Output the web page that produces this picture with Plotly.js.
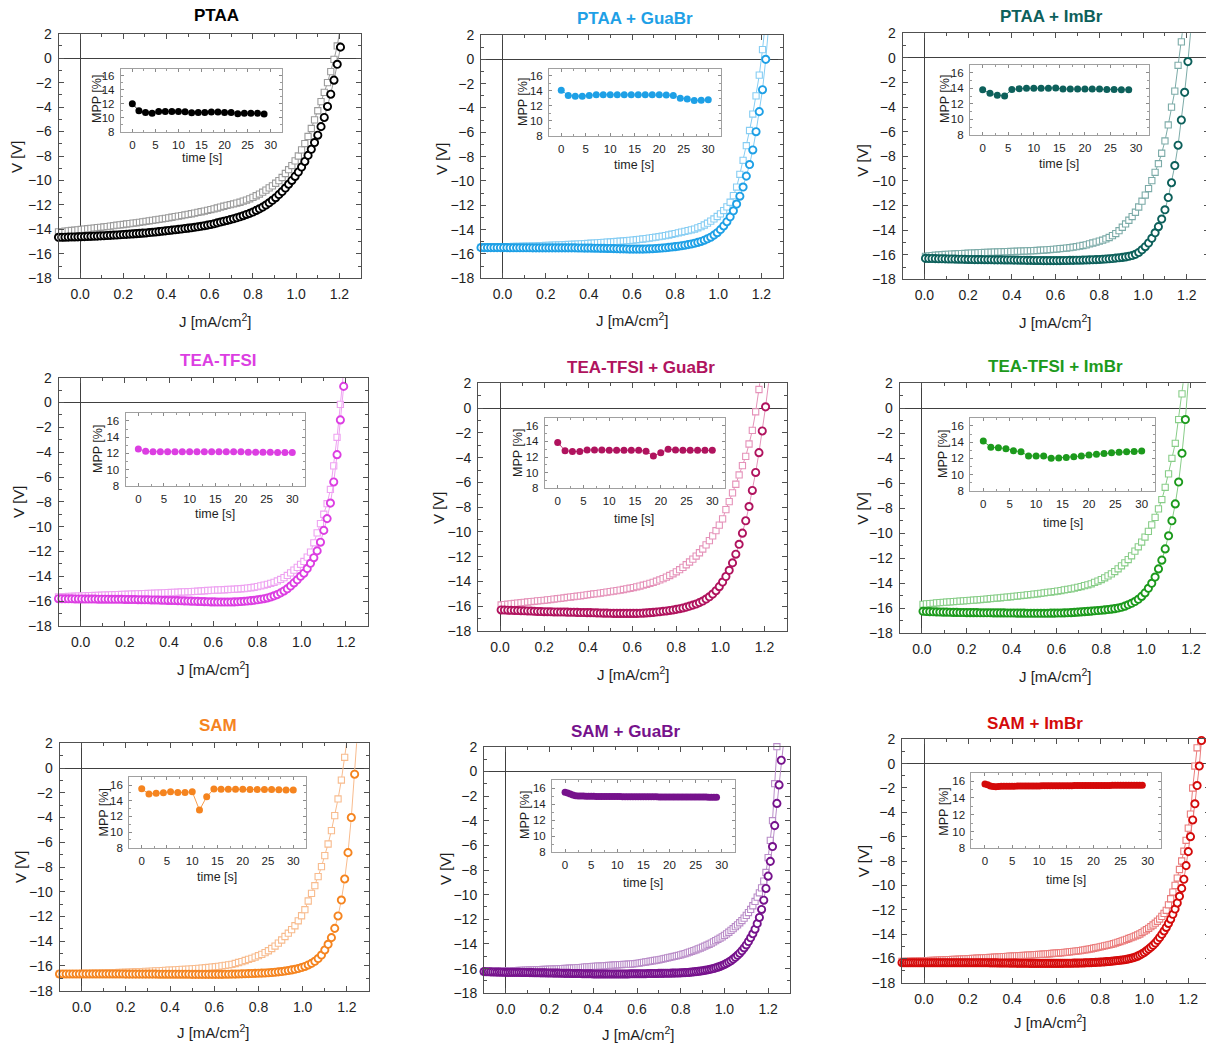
<!DOCTYPE html>
<html>
<head>
<meta charset="utf-8">
<script src="https://cdn.plot.ly/plotly-3.0.1.min.js"></script>
<style>
  html, body { margin: 0; padding: 0; overflow: hidden; background: #fff; }
  #chart { width: 1215px; height: 1045px; }
</style>
</head>
<body>
<div id="chart"></div>
<script>
// J sweep points (mA/cm2) shared by the standard-resolution scans
const GRID_A = [
  -0.1,-0.085,-0.07,-0.055,-0.04,-0.025,-0.01,0.005,0.02,0.035,
  0.05,0.065,0.08,0.095,0.11,0.125,0.14,0.155,0.17,0.185,
  0.2,0.215,0.23,0.245,0.26,0.275,0.29,0.305,0.32,0.335,
  0.35,0.365,0.38,0.395,0.41,0.425,0.44,0.455,0.47,0.485,
  0.5,0.515,0.53,0.545,0.56,0.575,0.59,0.605,0.62,0.635,
  0.65,0.665,0.68,0.695,0.71,0.725,0.74,0.755,0.77,0.785,
  0.8,0.815,0.83,0.845,0.86,0.875,0.89,0.905,0.92,0.935,
  0.95,0.965,0.98,0.995,1.01,1.025,1.04,1.055,1.07,1.085,
  1.1,1.115,1.13,1.145,1.16,1.175,1.19,1.205,1.22,1.235,
  1.25,1.265,1.28
];
// finer J sweep used for the SAM + additive scans
const GRID_C = [
  -0.1,-0.09,-0.08,-0.07,-0.06,-0.05,-0.04,-0.03,-0.02,-0.01,
  0,0.01,0.02,0.03,0.04,0.05,0.06,0.07,0.08,0.09,
  0.1,0.11,0.12,0.13,0.14,0.15,0.16,0.17,0.18,0.19,
  0.2,0.21,0.22,0.23,0.24,0.25,0.26,0.27,0.28,0.29,
  0.3,0.31,0.32,0.33,0.34,0.35,0.36,0.37,0.38,0.39,
  0.4,0.41,0.42,0.43,0.44,0.45,0.46,0.47,0.48,0.49,
  0.5,0.51,0.52,0.53,0.54,0.55,0.56,0.57,0.58,0.59,
  0.6,0.61,0.62,0.63,0.64,0.65,0.66,0.67,0.68,0.69,
  0.7,0.71,0.72,0.73,0.74,0.75,0.76,0.77,0.78,0.79,
  0.8,0.81,0.82,0.83,0.84,0.85,0.86,0.87,0.88,0.89,
  0.9,0.91,0.92,0.93,0.94,0.95,0.96,0.97,0.98,0.99,
  1.0,1.01,1.02,1.03,1.04,1.05,1.06,1.07,1.08,1.09,
  1.1,1.11,1.12,1.13,1.14,1.15,1.16,1.17,1.18,1.19,
  1.2,1.21,1.22,1.23,1.24,1.25,1.26,1.27,1.28
];

// ---- PTAA ----
const PTAA_CIRC = [
  -14.65,-14.65,-14.64,-14.63,-14.62,-14.62,-14.61,-14.6,-14.59,-14.58,
  -14.57,-14.56,-14.55,-14.53,-14.52,-14.5,-14.49,-14.47,-14.46,-14.44,
  -14.42,-14.41,-14.39,-14.37,-14.35,-14.33,-14.31,-14.29,-14.26,-14.24,
  -14.21,-14.18,-14.15,-14.12,-14.09,-14.06,-14.03,-14.0,-13.97,-13.93,
  -13.9,-13.87,-13.83,-13.79,-13.75,-13.7,-13.65,-13.6,-13.54,-13.47,
  -13.4,-13.33,-13.27,-13.2,-13.13,-13.05,-12.97,-12.88,-12.78,-12.69,
  -12.58,-12.45,-12.32,-12.18,-12.01,-11.83,-11.62,-11.41,-11.16,-10.91,
  -10.62,-10.31,-10.0,-9.67,-9.31,-8.9,-8.45,-7.95,-7.45,-6.9,
  -6.3,-5.6,-4.85,-3.95,-2.95,-1.8,-0.5,0.9
];
const PTAA_SQ = [
  -14.2,-14.18,-14.15,-14.12,-14.09,-14.07,-14.04,-14.01,-13.98,-13.95,
  -13.92,-13.89,-13.86,-13.83,-13.8,-13.77,-13.73,-13.7,-13.66,-13.63,
  -13.6,-13.56,-13.53,-13.49,-13.46,-13.42,-13.38,-13.34,-13.3,-13.26,
  -13.22,-13.18,-13.14,-13.1,-13.06,-13.01,-12.96,-12.92,-12.87,-12.82,
  -12.77,-12.72,-12.67,-12.61,-12.56,-12.5,-12.44,-12.38,-12.32,-12.25,
  -12.18,-12.11,-12.04,-11.98,-11.92,-11.85,-11.78,-11.69,-11.6,-11.5,
  -11.38,-11.25,-11.11,-10.96,-10.79,-10.61,-10.44,-10.23,-10.01,-9.76,
  -9.43,-9.12,-8.78,-8.4,-8.0,-7.5,-6.98,-6.4,-5.75,-5.05,
  -4.3,-3.55,-2.8,-2.0,-1.1,-0.1,1.0,2.6
];
// ---- PTAA + GuaBr ----
const PTAA_GUA_CIRC = [
  -15.48,-15.48,-15.48,-15.48,-15.48,-15.48,-15.48,-15.48,-15.48,-15.49,
  -15.49,-15.49,-15.49,-15.49,-15.49,-15.49,-15.5,-15.5,-15.5,-15.5,
  -15.5,-15.5,-15.5,-15.5,-15.5,-15.5,-15.5,-15.5,-15.5,-15.5,
  -15.51,-15.51,-15.52,-15.52,-15.52,-15.53,-15.53,-15.54,-15.54,-15.55,
  -15.55,-15.56,-15.57,-15.58,-15.58,-15.59,-15.6,-15.6,-15.6,-15.6,
  -15.6,-15.59,-15.58,-15.57,-15.55,-15.53,-15.51,-15.49,-15.46,-15.43,
  -15.4,-15.36,-15.32,-15.28,-15.23,-15.18,-15.12,-15.05,-14.97,-14.87,
  -14.75,-14.62,-14.45,-14.25,-14.0,-13.7,-13.35,-12.95,-12.45,-11.9,
  -11.25,-10.5,-9.6,-8.65,-7.45,-5.95,-4.3,-2.5,0.0,3.0
];
const PTAA_GUA_SQ = [
  -15.45,-15.45,-15.44,-15.44,-15.43,-15.43,-15.42,-15.41,-15.4,-15.39,
  -15.38,-15.38,-15.37,-15.36,-15.35,-15.35,-15.34,-15.33,-15.32,-15.31,
  -15.3,-15.29,-15.28,-15.27,-15.26,-15.25,-15.24,-15.22,-15.21,-15.2,
  -15.19,-15.17,-15.16,-15.14,-15.12,-15.11,-15.09,-15.07,-15.05,-15.03,
  -15.01,-14.99,-14.97,-14.95,-14.93,-14.91,-14.88,-14.86,-14.83,-14.8,
  -14.77,-14.74,-14.7,-14.66,-14.62,-14.58,-14.54,-14.49,-14.44,-14.38,
  -14.32,-14.26,-14.2,-14.14,-14.08,-14.02,-13.95,-13.85,-13.75,-13.62,
  -13.47,-13.3,-13.12,-12.92,-12.7,-12.43,-12.13,-11.75,-11.2,-10.5,
  -9.45,-8.3,-7.1,-5.85,-4.5,-3.0,-1.3,0.8,3.3
];
// ---- PTAA + ImBr (sweep starts at J = 0) ----
const PTAA_IM_CIRC = [
  -16.3,-16.31,-16.31,-16.32,-16.33,-16.33,-16.34,-16.35,-16.35,-16.36,-16.37,-16.37,-16.38,
  -16.39,-16.39,-16.4,-16.4,-16.4,-16.41,-16.41,-16.41,-16.42,-16.42,
  -16.42,-16.43,-16.43,-16.43,-16.44,-16.44,-16.45,-16.45,-16.46,-16.46,
  -16.47,-16.47,-16.47,-16.48,-16.48,-16.48,-16.48,-16.48,-16.48,-16.47,
  -16.47,-16.46,-16.46,-16.45,-16.45,-16.44,-16.43,-16.42,-16.41,-16.4,
  -16.39,-16.37,-16.35,-16.33,-16.31,-16.28,-16.25,-16.22,-16.18,-16.13,
  -16.07,-15.97,-15.82,-15.6,-15.35,-15.05,-14.67,-14.22,-13.72,-13.1,
  -12.35,-11.35,-10.15,-8.75,-7.1,-5.05,-2.8,-0.3,2.6
];
const PTAA_IM_SQ = [
  -16.14,-16.1,-16.07,-16.04,-16.02,-16.0,-15.98,-15.97,-15.95,-15.94,-15.92,-15.91,-15.9,
  -15.88,-15.87,-15.86,-15.84,-15.83,-15.82,-15.81,-15.8,-15.79,-15.78,
  -15.77,-15.76,-15.75,-15.74,-15.73,-15.72,-15.71,-15.7,-15.69,-15.68,
  -15.67,-15.66,-15.64,-15.62,-15.6,-15.58,-15.56,-15.54,-15.51,-15.49,
  -15.46,-15.43,-15.39,-15.35,-15.3,-15.25,-15.2,-15.12,-15.05,-14.98,
  -14.9,-14.82,-14.72,-14.6,-14.45,-14.28,-14.05,-13.77,-13.5,-13.2,
  -12.9,-12.55,-12.12,-11.65,-11.15,-10.62,-9.98,-9.3,-8.6,-7.75,
  -6.75,-5.45,-4.0,-2.7,-0.6,1.3,3.5
];
// ---- TEA-TFSI ----
const TEA_CIRC = [
  -15.8,-15.8,-15.81,-15.81,-15.81,-15.82,-15.82,-15.82,-15.83,-15.83,
  -15.83,-15.83,-15.84,-15.84,-15.84,-15.84,-15.85,-15.85,-15.85,-15.85,
  -15.86,-15.86,-15.87,-15.87,-15.88,-15.88,-15.89,-15.89,-15.9,-15.9,
  -15.91,-15.92,-15.93,-15.94,-15.94,-15.95,-15.96,-15.97,-15.98,-15.99,
  -16.0,-16.01,-16.02,-16.03,-16.04,-16.05,-16.06,-16.06,-16.07,-16.07,
  -16.07,-16.07,-16.07,-16.06,-16.05,-16.03,-16.01,-15.99,-15.96,-15.93,
  -15.89,-15.85,-15.8,-15.74,-15.66,-15.57,-15.47,-15.33,-15.18,-15.0,
  -14.78,-14.53,-14.28,-14.0,-13.75,-13.38,-12.95,-12.5,-11.95,-11.25,
  -10.3,-9.35,-8.1,-6.4,-4.2,-1.4,1.3
];
const TEA_SQ = [
  -15.65,-15.64,-15.63,-15.62,-15.61,-15.6,-15.59,-15.58,-15.57,-15.56,
  -15.55,-15.54,-15.53,-15.52,-15.51,-15.5,-15.49,-15.48,-15.47,-15.46,
  -15.45,-15.44,-15.43,-15.42,-15.41,-15.4,-15.39,-15.38,-15.37,-15.36,
  -15.35,-15.34,-15.33,-15.31,-15.3,-15.29,-15.28,-15.26,-15.25,-15.24,
  -15.23,-15.21,-15.2,-15.18,-15.16,-15.14,-15.13,-15.11,-15.1,-15.09,
  -15.08,-15.06,-15.05,-15.04,-15.02,-15.0,-14.98,-14.95,-14.92,-14.88,
  -14.83,-14.77,-14.71,-14.64,-14.56,-14.48,-14.37,-14.25,-14.1,-13.93,
  -13.72,-13.5,-13.28,-13.03,-12.8,-12.45,-12.05,-11.3,-10.5,-9.75,
  -9.0,-8.15,-7.0,-5.1,-2.8,-0.15,2.6
];
// ---- TEA-TFSI + GuaBr (sweep starts at J = 0) ----
const TEA_GUA_CIRC = [
  -16.3,-16.31,-16.32,-16.33,-16.34,-16.35,-16.36,-16.37,-16.38,-16.39,-16.41,-16.42,-16.43,
  -16.44,-16.44,-16.45,-16.46,-16.46,-16.47,-16.47,-16.48,-16.49,-16.49,
  -16.5,-16.51,-16.51,-16.52,-16.52,-16.53,-16.54,-16.55,-16.56,-16.56,
  -16.57,-16.58,-16.58,-16.58,-16.58,-16.58,-16.58,-16.58,-16.58,-16.57,
  -16.56,-16.54,-16.52,-16.5,-16.47,-16.44,-16.41,-16.38,-16.34,-16.3,
  -16.25,-16.2,-16.14,-16.07,-15.99,-15.91,-15.82,-15.71,-15.58,-15.42,
  -15.24,-15.02,-14.75,-14.42,-14.05,-13.6,-13.1,-12.5,-11.8,-11.0,
  -10.1,-9.1,-7.95,-6.65,-5.2,-3.6,-1.85,0.1,2.2
];
const TEA_GUA_SQ = [
  -15.9,-15.87,-15.84,-15.81,-15.78,-15.75,-15.72,-15.69,-15.66,-15.63,-15.6,-15.57,-15.55,
  -15.52,-15.49,-15.46,-15.42,-15.39,-15.36,-15.33,-15.29,-15.26,-15.22,
  -15.19,-15.16,-15.12,-15.08,-15.05,-15.01,-14.98,-14.94,-14.9,-14.86,
  -14.82,-14.78,-14.74,-14.7,-14.65,-14.6,-14.55,-14.49,-14.43,-14.37,
  -14.3,-14.23,-14.15,-14.07,-13.98,-13.88,-13.77,-13.65,-13.52,-13.38,
  -13.22,-13.05,-12.86,-12.65,-12.43,-12.2,-11.95,-11.68,-11.38,-11.05,
  -10.7,-10.32,-9.9,-9.45,-8.95,-8.2,-7.55,-6.85,-6.15,-5.4,
  -4.65,-3.9,-2.9,-1.8,-0.3,1.5,3.4
];
// ---- TEA-TFSI + ImBr (sweep starts at J = 0) ----
const TEA_IM_CIRC = [
  -16.24,-16.26,-16.27,-16.28,-16.29,-16.3,-16.31,-16.31,-16.32,-16.33,-16.33,-16.34,-16.34,
  -16.35,-16.35,-16.35,-16.35,-16.36,-16.36,-16.36,-16.36,-16.37,-16.37,
  -16.37,-16.37,-16.38,-16.38,-16.38,-16.39,-16.39,-16.39,-16.4,-16.4,
  -16.4,-16.4,-16.4,-16.4,-16.4,-16.39,-16.39,-16.38,-16.38,-16.37,
  -16.36,-16.35,-16.33,-16.31,-16.29,-16.27,-16.25,-16.23,-16.2,-16.18,
  -16.16,-16.13,-16.1,-16.07,-16.03,-15.98,-15.92,-15.83,-15.72,-15.6,
  -15.46,-15.28,-15.05,-14.77,-14.4,-14.0,-13.5,-12.85,-12.15,-11.25,
  -10.2,-9.0,-7.65,-5.9,-3.6,-0.9,2.6
];
const TEA_IM_SQ = [
  -15.68,-15.65,-15.62,-15.6,-15.57,-15.55,-15.53,-15.51,-15.49,-15.47,-15.45,-15.43,-15.41,
  -15.39,-15.37,-15.35,-15.33,-15.31,-15.28,-15.26,-15.23,-15.21,-15.18,
  -15.16,-15.13,-15.11,-15.08,-15.05,-15.02,-14.99,-14.96,-14.93,-14.9,
  -14.87,-14.84,-14.8,-14.77,-14.73,-14.7,-14.66,-14.62,-14.58,-14.53,
  -14.49,-14.44,-14.39,-14.32,-14.26,-14.19,-14.12,-14.04,-13.93,-13.82,
  -13.7,-13.56,-13.41,-13.25,-13.06,-12.84,-12.6,-12.36,-12.1,-11.8,
  -11.43,-11.08,-10.7,-10.3,-9.85,-9.33,-8.73,-8.05,-7.3,-6.32,
  -5.25,-4.0,-2.8,-0.9,1.15,3.4
];
// ---- SAM ----
const SAM_CIRC = [
  -16.65,-16.65,-16.65,-16.65,-16.65,-16.65,-16.65,-16.65,-16.65,-16.65,
  -16.65,-16.65,-16.65,-16.65,-16.65,-16.65,-16.65,-16.65,-16.65,-16.65,
  -16.66,-16.66,-16.66,-16.66,-16.66,-16.66,-16.66,-16.66,-16.66,-16.66,
  -16.67,-16.67,-16.67,-16.67,-16.67,-16.67,-16.67,-16.67,-16.67,-16.67,
  -16.68,-16.68,-16.68,-16.68,-16.68,-16.68,-16.68,-16.68,-16.68,-16.68,
  -16.67,-16.67,-16.66,-16.66,-16.65,-16.64,-16.63,-16.62,-16.61,-16.6,
  -16.59,-16.58,-16.57,-16.55,-16.53,-16.51,-16.48,-16.45,-16.41,-16.37,
  -16.32,-16.27,-16.21,-16.13,-16.04,-15.92,-15.79,-15.62,-15.4,-15.12,
  -14.71,-14.25,-13.71,-12.96,-11.96,-10.67,-8.97,-6.84,-4.0,-0.5,
  3.5
];
const SAM_SQ = [
  -16.65,-16.65,-16.64,-16.64,-16.63,-16.63,-16.62,-16.61,-16.61,-16.6,
  -16.59,-16.58,-16.58,-16.57,-16.56,-16.55,-16.55,-16.54,-16.53,-16.52,
  -16.51,-16.5,-16.48,-16.47,-16.46,-16.45,-16.44,-16.43,-16.41,-16.4,
  -16.39,-16.37,-16.36,-16.34,-16.33,-16.31,-16.3,-16.28,-16.27,-16.25,
  -16.23,-16.21,-16.19,-16.17,-16.14,-16.12,-16.09,-16.06,-16.03,-15.99,
  -15.95,-15.91,-15.87,-15.8,-15.72,-15.65,-15.56,-15.47,-15.38,-15.28,
  -15.17,-15.06,-14.92,-14.77,-14.59,-14.39,-14.15,-13.9,-13.62,-13.35,
  -13.06,-12.75,-12.35,-11.94,-11.45,-10.75,-10.13,-9.51,-8.78,-7.97,
  -7.08,-6.14,-5.06,-3.85,-2.5,-0.97,0.87,2.8
];
// ---- SAM + GuaBr (fine sweep) ----
const SAM_GUA_CIRC = [
  -16.24,-16.25,-16.25,-16.26,-16.27,-16.27,-16.28,-16.28,-16.29,-16.29,
  -16.3,-16.3,-16.3,-16.3,-16.3,-16.3,-16.3,-16.31,-16.31,-16.31,
  -16.31,-16.32,-16.32,-16.33,-16.33,-16.33,-16.34,-16.34,-16.34,-16.35,
  -16.35,-16.35,-16.36,-16.36,-16.36,-16.37,-16.37,-16.38,-16.38,-16.38,
  -16.39,-16.39,-16.4,-16.4,-16.4,-16.41,-16.41,-16.42,-16.42,-16.42,
  -16.43,-16.43,-16.43,-16.43,-16.43,-16.43,-16.43,-16.43,-16.43,-16.43,
  -16.43,-16.43,-16.43,-16.43,-16.43,-16.43,-16.43,-16.42,-16.42,-16.42,
  -16.42,-16.42,-16.41,-16.41,-16.41,-16.4,-16.4,-16.4,-16.39,-16.39,
  -16.38,-16.38,-16.38,-16.37,-16.37,-16.37,-16.36,-16.36,-16.35,-16.35,
  -16.34,-16.33,-16.32,-16.31,-16.3,-16.28,-16.26,-16.24,-16.22,-16.2,
  -16.17,-16.14,-16.11,-16.07,-16.03,-15.99,-15.94,-15.88,-15.82,-15.74,
  -15.66,-15.57,-15.47,-15.36,-15.22,-15.08,-14.92,-14.75,-14.55,-14.32,
  -14.08,-13.8,-13.5,-13.17,-12.8,-12.35,-11.85,-11.2,-10.45,-9.5,
  -8.5,-7.3,-6.1,-4.4,-2.6,-1.1,0.9,2.2
];
const SAM_GUA_SQ = [
  -16.25,-16.25,-16.24,-16.24,-16.23,-16.23,-16.22,-16.22,-16.21,-16.21,
  -16.2,-16.19,-16.19,-16.18,-16.17,-16.16,-16.15,-16.15,-16.14,-16.13,
  -16.12,-16.11,-16.11,-16.1,-16.09,-16.09,-16.08,-16.07,-16.07,-16.06,
  -16.05,-16.04,-16.04,-16.03,-16.02,-16.01,-16.0,-15.99,-15.98,-15.97,
  -15.96,-15.95,-15.93,-15.92,-15.91,-15.89,-15.88,-15.86,-15.85,-15.84,
  -15.82,-15.81,-15.8,-15.79,-15.78,-15.77,-15.76,-15.74,-15.73,-15.72,
  -15.7,-15.69,-15.68,-15.67,-15.66,-15.65,-15.64,-15.63,-15.61,-15.6,
  -15.58,-15.55,-15.52,-15.49,-15.46,-15.43,-15.4,-15.37,-15.34,-15.31,
  -15.29,-15.25,-15.21,-15.17,-15.13,-15.09,-15.05,-15.01,-14.97,-14.93,
  -14.88,-14.83,-14.78,-14.72,-14.66,-14.6,-14.54,-14.47,-14.4,-14.33,
  -14.26,-14.18,-14.1,-14.02,-13.93,-13.83,-13.73,-13.63,-13.53,-13.42,
  -13.3,-13.18,-13.05,-12.9,-12.76,-12.6,-12.45,-12.28,-12.1,-11.9,
  -11.68,-11.45,-11.2,-10.9,-10.55,-10.2,-9.85,-9.45,-8.9,-8.2,
  -7.0,-5.6,-4.0,-1.0,2.0,4.5
];
// ---- SAM + ImBr (fine sweep) ----
const SAM_IM_CIRC = [
  -16.36,-16.36,-16.36,-16.36,-16.36,-16.36,-16.36,-16.36,-16.36,-16.36,
  -16.36,-16.36,-16.36,-16.36,-16.36,-16.36,-16.36,-16.36,-16.36,-16.36,
  -16.36,-16.36,-16.36,-16.36,-16.36,-16.36,-16.36,-16.36,-16.36,-16.36,
  -16.36,-16.36,-16.36,-16.36,-16.36,-16.36,-16.36,-16.36,-16.36,-16.36,
  -16.37,-16.37,-16.37,-16.37,-16.38,-16.38,-16.38,-16.38,-16.38,-16.39,
  -16.39,-16.39,-16.39,-16.4,-16.4,-16.4,-16.4,-16.4,-16.41,-16.41,
  -16.41,-16.41,-16.41,-16.41,-16.41,-16.41,-16.41,-16.41,-16.41,-16.41,
  -16.41,-16.41,-16.41,-16.41,-16.4,-16.4,-16.4,-16.4,-16.39,-16.39,
  -16.39,-16.38,-16.38,-16.37,-16.36,-16.36,-16.35,-16.34,-16.33,-16.32,
  -16.31,-16.3,-16.29,-16.27,-16.26,-16.24,-16.22,-16.2,-16.18,-16.16,
  -16.14,-16.11,-16.08,-16.04,-16.0,-15.95,-15.89,-15.82,-15.73,-15.63,
  -15.52,-15.38,-15.24,-15.09,-14.93,-14.74,-14.52,-14.29,-14.03,-13.75,
  -13.46,-13.13,-12.78,-12.38,-11.95,-11.45,-10.9,-10.25,-9.5,-8.38,
  -7.23,-6.0,-4.63,-3.3,-1.8,-0.2,1.9,3.8
];
const SAM_IM_SQ = [
  -16.25,-16.25,-16.24,-16.24,-16.23,-16.23,-16.22,-16.22,-16.21,-16.21,
  -16.2,-16.19,-16.18,-16.17,-16.17,-16.16,-16.15,-16.14,-16.13,-16.12,
  -16.11,-16.1,-16.1,-16.09,-16.08,-16.08,-16.07,-16.06,-16.05,-16.04,
  -16.03,-16.02,-16.01,-16.0,-15.99,-15.98,-15.97,-15.96,-15.95,-15.94,
  -15.93,-15.92,-15.91,-15.9,-15.89,-15.87,-15.86,-15.85,-15.83,-15.82,
  -15.81,-15.8,-15.79,-15.78,-15.77,-15.76,-15.75,-15.74,-15.73,-15.72,
  -15.7,-15.69,-15.68,-15.67,-15.66,-15.65,-15.63,-15.62,-15.6,-15.58,
  -15.57,-15.56,-15.54,-15.53,-15.51,-15.49,-15.47,-15.45,-15.43,-15.4,
  -15.38,-15.36,-15.33,-15.3,-15.27,-15.24,-15.21,-15.17,-15.13,-15.09,
  -15.05,-15.01,-14.97,-14.93,-14.89,-14.85,-14.8,-14.74,-14.68,-14.62,
  -14.56,-14.5,-14.44,-14.37,-14.3,-14.23,-14.16,-14.08,-14.0,-13.88,
  -13.76,-13.65,-13.53,-13.4,-13.26,-13.11,-12.95,-12.77,-12.55,-12.3,
  -12.05,-11.6,-11.1,-10.55,-10.0,-9.4,-8.7,-8.0,-7.2,-6.3,
  -5.3,-4.15,-2.0,-0.2,1.3,2.9
];

// ---- maximum power point tracking (inset) ----
const MPP_T = [0,1.43,2.86,4.29,5.71,7.14,8.57,10,11.43,12.86,14.29,15.71,17.14,18.57,20,21.43,22.86,24.29,25.71,27.14,28.57,30];
const MPP_T_FINE = [
  0,0.5,1,1.5,2,2.5,3,3.5,4,4.5,5,5.5,6,6.5,7,7.5,8,8.5,9,9.5,
  10,10.5,11,11.5,12,12.5,13,13.5,14,14.5,15,15.5,16,16.5,17,17.5,18,18.5,19,19.5,
  20,20.5,21,21.5,22,22.5,23,23.5,24,24.5,25,25.5,26,26.5,27,27.5,28,28.5,29
];
const MPP_PTAA = [12.0,11.0,10.76,10.62,10.9,10.9,10.9,10.9,10.86,10.71,10.76,10.76,10.81,10.81,10.76,10.76,10.57,10.62,10.62,10.62,10.52];
const MPP_PTAA_GUA = [14.1,13.4,13.3,13.3,13.4,13.5,13.5,13.5,13.5,13.5,13.5,13.5,13.5,13.5,13.5,13.45,13.4,13.0,12.9,12.7,12.75,12.8];
const MPP_PTAA_IM = [13.8,13.35,13.1,13.0,13.85,13.95,14.0,14.0,14.0,14.0,14.05,13.9,13.9,13.9,13.9,13.9,13.9,13.85,13.85,13.8,13.8];
const MPP_TEA = [12.55,12.25,12.2,12.2,12.2,12.2,12.2,12.2,12.2,12.2,12.2,12.2,12.2,12.2,12.2,12.15,12.15,12.15,12.15,12.1,12.1,12.1];
const MPP_TEA_GUA = [13.87,12.8,12.7,12.7,12.9,12.9,12.9,12.85,12.85,12.85,12.85,12.85,12.75,12.13,12.55,13.0,12.9,12.85,12.85,12.85,12.85,12.85];
const MPP_TEA_IM = [14.14,13.36,13.3,13.2,12.95,12.8,12.3,12.3,12.3,12.0,12.05,12.1,12.2,12.3,12.4,12.5,12.6,12.7,12.75,12.8,12.85,12.9];
const MPP_SAM = [15.53,14.85,14.95,15.0,15.15,15.05,15.05,15.15,12.8,14.5,15.5,15.45,15.45,15.45,15.45,15.42,15.42,15.42,15.42,15.4,15.38,15.38];
const MPP_SAM_GUA = [
  15.5,15.42,15.28,15.15,15.08,15.05,15.05,15.03,15.02,15.0,
  15.0,15.0,14.98,14.98,14.98,14.97,14.97,14.97,14.96,14.96,
  14.96,14.96,14.95,14.95,14.95,14.95,14.95,14.94,14.94,14.94,
  14.94,14.93,14.93,14.93,14.93,14.93,14.92,14.92,14.92,14.92,
  14.92,14.92,14.91,14.91,14.91,14.91,14.91,14.9,14.9,14.9,
  14.9,14.9,14.9,14.9,14.9,14.89,14.89,14.89,14.88
];
const MPP_SAM_IM = [
  15.65,15.55,15.42,15.35,15.33,15.35,15.37,15.38,15.38,15.39,
  15.39,15.39,15.4,15.4,15.4,15.41,15.41,15.41,15.42,15.42,
  15.42,15.43,15.43,15.43,15.44,15.44,15.44,15.44,15.45,15.45,
  15.45,15.45,15.45,15.46,15.46,15.46,15.46,15.47,15.47,15.47,
  15.47,15.47,15.48,15.48,15.48,15.48,15.48,15.49,15.49,15.49,
  15.49,15.49,15.5,15.5,15.5,15.5,15.5,15.5,15.5
];

// ---- figure layout (pixel boxes on a 1215 x 1045 canvas) ----
const W = 1215, H = 1045;
const FONT = '"Liberation Sans", Arial, Helvetica, sans-serif';
const INK = '#1e1e1e';
const FRAME = '#505050';

const panels = [
  { name: 'PTAA', dark: '#000000', light: '#9b9b9b', grid: GRID_A,
    circ: PTAA_CIRC, circOff: 0, sq: PTAA_SQ, sqOff: 0, t: MPP_T, mpp: MPP_PTAA,
    box: [58.5, 361, 33.7, 278.3], inset: [120.8, 282.2, 68.7, 131.7],
    title: [217, 16], xt: [215, 320], yt: [17, 157], imp: [97, 99], itime: [202, 158] },
  { name: 'PTAA + GuaBr', dark: '#1ea0e6', light: '#86cdf3', grid: GRID_A,
    circ: PTAA_GUA_CIRC, circOff: 0, sq: PTAA_GUA_SQ, sqOff: 0, t: MPP_T, mpp: MPP_PTAA_GUA,
    box: [481, 783, 35, 278.3], inset: [549, 720.5, 68.5, 135.7],
    title: [635, 18.3], xt: [632, 319], yt: [442, 158], imp: [523, 102], itime: [634, 165] },
  { name: 'PTAA + ImBr', dark: '#0d605b', light: '#7caba8', grid: GRID_A,
    circ: PTAA_IM_CIRC, circOff: 7, sq: PTAA_IM_SQ, sqOff: 7, t: MPP_T, mpp: MPP_PTAA_IM,
    box: [902.5, 1208.7, 33.3, 279.3], inset: [969.9, 1148.8, 64.9, 135],
    title: [1051.7, 16.7], xt: [1055, 321.7], yt: [861.7, 160], imp: [945, 99], itime: [1059, 164] },
  { name: 'TEA-TFSI', dark: '#dc3ee2', light: '#eea2f1', grid: GRID_A,
    circ: TEA_CIRC, circOff: 0, sq: TEA_SQ, sqOff: 0, t: MPP_T, mpp: MPP_TEA,
    box: [58.5, 368, 377.7, 626], inset: [125.5, 305.1, 412.9, 485.7],
    title: [218, 360.7], xt: [213, 668], yt: [18, 502], imp: [98, 449], itime: [215, 514] },
  { name: 'TEA-TFSI + GuaBr', dark: '#b0135e', light: '#e592b9', grid: GRID_A,
    circ: TEA_GUA_CIRC, circOff: 7, sq: TEA_GUA_SQ, sqOff: 7, t: MPP_T, mpp: MPP_TEA_GUA,
    box: [478, 786.5, 383.3, 631], inset: [544.8, 725.2, 417.9, 488.3],
    title: [640.7, 367.3], xt: [633, 673.3], yt: [438, 508], imp: [518, 453], itime: [634, 519] },
  { name: 'TEA-TFSI + ImBr', dark: '#1c9a1c', light: '#88cd88', grid: GRID_A,
    circ: TEA_IM_CIRC, circOff: 7, sq: TEA_IM_SQ, sqOff: 7, t: MPP_T, mpp: MPP_TEA_IM,
    box: [899.5, 1213.4, 383.3, 633.3], inset: [970.1, 1154.9, 417.9, 490.7],
    title: [1055, 366.7], xt: [1055, 675], yt: [861.7, 508], imp: [943, 454], itime: [1062.7, 522.7] },
  { name: 'SAM', dark: '#f5841f', light: '#f8bb8d', grid: GRID_A,
    circ: SAM_CIRC, circOff: 0, sq: SAM_SQ, sqOff: 0, t: MPP_T, mpp: MPP_SAM,
    box: [59.5, 369, 743.3, 990.7], inset: [129.1, 305.9, 777.2, 847.7],
    title: [218.3, 725], xt: [213.3, 1031.7], yt: [20, 867], imp: [103, 812.5], itime: [217.3, 876.7] },
  { name: 'SAM + GuaBr', dark: '#76128c', light: '#b98cc8', grid: GRID_C,
    circ: SAM_GUA_CIRC, circOff: 0, sq: SAM_GUA_SQ, sqOff: 0, t: MPP_T_FINE, mpp: MPP_SAM_GUA,
    box: [484, 790, 746.7, 993.3], inset: [552, 734.8, 780.3, 852.3],
    title: [625, 731], xt: [638.3, 1033.3], yt: [445, 869], imp: [525, 815], itime: [643.3, 882.7] },
  { name: 'SAM + ImBr', dark: '#d40a0a', light: '#ea7c7c', grid: GRID_C,
    circ: SAM_IM_CIRC, circOff: 0, sq: SAM_IM_SQ, sqOff: 0, t: MPP_T_FINE, mpp: MPP_SAM_IM,
    box: [902, 1210.3, 739.3, 982.7], inset: [971.4, 1161.3, 772.6, 848.3],
    title: [1035, 723.3], xt: [1050, 1021.7], yt: [863.3, 861], imp: [944, 811.7], itime: [1065.7, 880] }
];

const traces = [];
const annotations = [];
const layout = {
  width: W, height: H,
  margin: { l: 0, r: 0, t: 0, b: 0 },
  paper_bgcolor: '#ffffff', plot_bgcolor: '#ffffff',
  showlegend: false,
  font: { family: FONT, color: INK },
  annotations: annotations
};

const axId = n => (n === 1 ? '' : String(n));
const fx = px => px / W;
const fy = px => 1 - px / H;

function note(text, pos, size, color, angle, bold) {
  annotations.push({
    text: bold ? '<b>' + text + '</b>' : text,
    x: fx(pos[0]), y: fy(pos[1]), xref: 'paper', yref: 'paper',
    xanchor: 'center', yanchor: 'middle', showarrow: false,
    textangle: angle || 0,
    font: { family: FONT, size: size, color: color }
  });
}

panels.forEach((p, i) => {
  const n = i + 1, m = i + 10;
  const xa = 'x' + axId(n), ya = 'y' + axId(n);

  // reverse (squares, pale) first, then forward (circles) on top
  const scans = [
    { v: p.sq, off: p.sqOff, symbol: 'square', size: 6.2, lw: 1.1, col: p.light },
    { v: p.circ, off: p.circOff, symbol: 'circle', size: 7.2, lw: 1.9, col: p.dark }
  ];
  scans.forEach(s => {
    const xs = p.grid.slice(s.off, s.off + s.v.length);
    traces.push({
      type: 'scatter', mode: 'lines', x: xs, y: s.v, xaxis: xa, yaxis: ya,
      line: { color: p.light, width: 1 }, hoverinfo: 'skip'
    });
    const idx = s.v.map((_, j) => j).filter(j => s.v[j] <= 2.4);
    traces.push({
      type: 'scatter', mode: 'markers',
      x: idx.map(j => xs[j]), y: idx.map(j => s.v[j]),
      xaxis: xa, yaxis: ya, cliponaxis: false,
      marker: { symbol: s.symbol, size: s.size, color: '#ffffff', line: { color: s.col, width: s.lw } },
      hoverinfo: 'skip'
    });
  });

  traces.push({
    type: 'scatter', mode: 'lines+markers',
    x: p.t.slice(0, p.mpp.length), y: p.mpp,
    xaxis: 'x' + m, yaxis: 'y' + m, cliponaxis: false,
    line: { color: p.dark, width: 0.8 },
    marker: { size: 7, color: p.dark },
    hoverinfo: 'skip'
  });

  layout['xaxis' + axId(n)] = {
    domain: [fx(p.box[0]), fx(p.box[1])], range: [-0.1, 1.3], anchor: ya,
    showline: true, mirror: 'ticks', linecolor: FRAME, linewidth: 1,
    ticks: 'inside', ticklen: 5, tickwidth: 1, tickcolor: FRAME,
    tick0: 0, dtick: 0.2, tickformat: '.1f',
    minor: { ticks: 'inside', ticklen: 3, tickwidth: 1, tickcolor: FRAME, tick0: 0, dtick: 0.1 },
    zeroline: true, zerolinecolor: '#404040', zerolinewidth: 1, showgrid: false,
    tickfont: { family: FONT, size: 14, color: INK }, ticklabelstandoff: 3, fixedrange: true
  };
  layout['yaxis' + axId(n)] = {
    domain: [fy(p.box[3]), fy(p.box[2])], range: [-18, 2], anchor: xa,
    showline: true, mirror: 'ticks', linecolor: FRAME, linewidth: 1,
    ticks: 'inside', ticklen: 5, tickwidth: 1, tickcolor: FRAME,
    tick0: 0, dtick: 2,
    minor: { ticks: 'inside', ticklen: 3, tickwidth: 1, tickcolor: FRAME, tick0: 0, dtick: 1 },
    zeroline: true, zerolinecolor: '#404040', zerolinewidth: 1, showgrid: false,
    tickfont: { family: FONT, size: 14, color: INK }, ticklabelstandoff: 3, fixedrange: true
  };
  layout['xaxis' + m] = {
    domain: [fx(p.inset[0]), fx(p.inset[1])], range: [-2.5, 32.5], anchor: 'y' + m,
    showline: true, mirror: 'ticks', linecolor: '#a0a0a0', linewidth: 1,
    ticks: 'inside', ticklen: 3, tickwidth: 1, tickcolor: '#8a8a8a',
    tick0: 0, dtick: 5,
    minor: { ticks: 'inside', ticklen: 2, tickwidth: 1, tickcolor: '#9a9a9a', tick0: 0, dtick: 2.5 },
    zeroline: false, showgrid: false,
    tickfont: { family: FONT, size: 11.5, color: INK }, ticklabelstandoff: 2, fixedrange: true
  };
  layout['yaxis' + m] = {
    domain: [fy(p.inset[3]), fy(p.inset[2])], range: [8, 17], anchor: 'x' + m,
    showline: true, mirror: 'ticks', linecolor: '#a0a0a0', linewidth: 1,
    ticks: 'inside', ticklen: 3, tickwidth: 1, tickcolor: '#8a8a8a',
    tick0: 8, dtick: 2,
    minor: { ticks: 'inside', ticklen: 2, tickwidth: 1, tickcolor: '#9a9a9a', tick0: 8, dtick: 1 },
    zeroline: false, showgrid: false,
    tickfont: { family: FONT, size: 11.5, color: INK }, ticklabelstandoff: 3, fixedrange: true
  };

  note(p.name, p.title, 17, p.dark, 0, true);
  note('J [mA/cm<sup>2</sup>]', p.xt, 15, INK, 0, false);
  note('V [V]', p.yt, 15, INK, -90, false);
  note('MPP [%]', p.imp, 12.5, INK, -90, false);
  note('time [s]', p.itime, 12.5, INK, 0, false);
});

Plotly.newPlot('chart', traces, layout, { staticPlot: true, displayModeBar: false });
</script>
</body>
</html>
